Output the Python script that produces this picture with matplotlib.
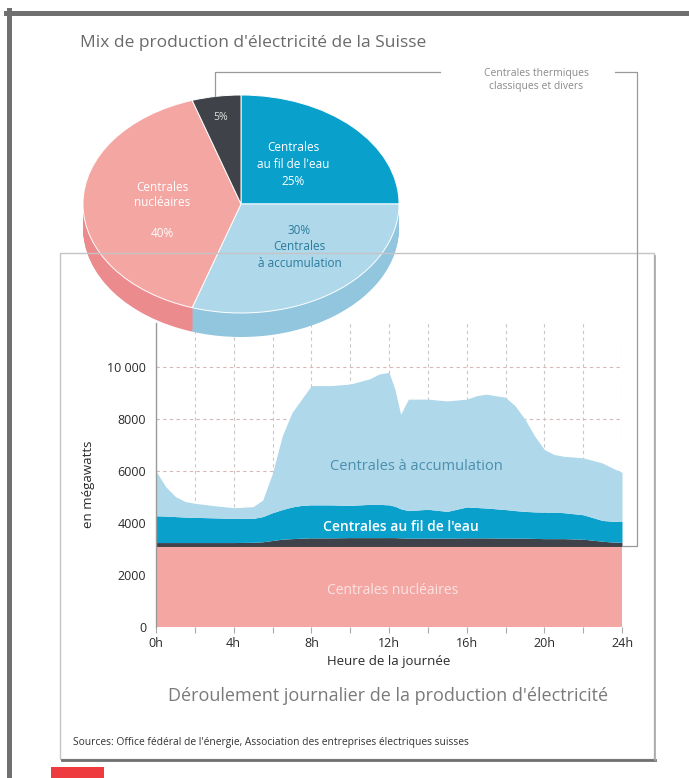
import matplotlib
matplotlib.use("Agg")
from matplotlib import pyplot as plt
from matplotlib.lines import Line2D
from matplotlib.patches import Rectangle

plt.rcParams['font.family'] = ['Open Sans', 'DejaVu Sans']

W, H = 689, 778

# pie: shares of the Swiss electricity mix (%)
pie_labels = ["Centrales au fil de l'eau", "Centrales à accumulation",
              "Centrales nucléaires", "Centrales thermiques classiques et divers"]
pie_shares = [25, 30, 40, 5]

# daily production, upper edge of each stacked layer (MW)
hours = [0, 0.5, 1, 1.5, 2, 3, 4, 5, 5.5, 6, 6.5, 7, 7.5, 8, 9, 10, 11, 11.5, 12,
         12.3, 12.6, 13, 14, 15, 16, 16.5, 17, 18, 18.5, 19, 19.5, 20, 20.5, 21,
         22, 23, 23.5, 24]
top_nuclear = [3100] * len(hours)
top_thermal = [3250, 3250, 3250, 3250, 3250, 3250, 3250, 3260, 3280, 3330, 3380,
               3400, 3420, 3430, 3430, 3440, 3440, 3440, 3440, 3440, 3430, 3420,
               3420, 3420, 3430, 3430, 3430, 3420, 3420, 3420, 3410, 3400, 3400,
               3400, 3380, 3300, 3270, 3260]
top_fil = [4280, 4270, 4250, 4230, 4220, 4200, 4180, 4180, 4250, 4400, 4520, 4620,
           4680, 4700, 4700, 4680, 4720, 4720, 4700, 4650, 4550, 4480, 4530, 4450,
           4620, 4600, 4580, 4520, 4480, 4450, 4430, 4420, 4420, 4400, 4320, 4100,
           4070, 4060]
top_accum = [6000, 5400, 5020, 4830, 4760, 4670, 4590, 4630, 4890, 5920, 7350,
             8250, 8770, 9290, 9290, 9350, 9550, 9740, 9800, 9160, 8190, 8770,
             8770, 8700, 8770, 8900, 8960, 8840, 8510, 8000, 7350, 6830, 6640,
             6570, 6510, 6310, 6120, 5950]

y_ticks = [0, 2000, 4000, 6000, 8000, 10000]
y_ticklabels = ["0", "2000", "4000", "6000", "8000", "10 000"]
x_ticks = list(range(0, 25, 2))
x_ticklabels = [f"{h}h" if h % 4 == 0 else "" for h in x_ticks]

c_nuc, c_nuc_side = "#f4a6a3", "#ec8b8e"
c_acc, c_acc_side = "#afd8ea", "#92c6df"
c_fil, c_fil_side = "#0aa0cc", "#0a88b0"
c_the, c_the_side = "#3f4248", "#2f3136"


def fx(x):
    return x / W


def fy(y):
    return 1 - y / H


fig = plt.figure(figsize=(W / 100, H / 100), dpi=100)

# outer frame (top and left only) and red mark
fig.add_artist(Line2D([fx(6), fx(689)], [fy(12.5), fy(12.5)], color="#707070", lw=3.6))
fig.add_artist(Line2D([fx(8.5), fx(8.5)], [fy(10), fy(778)], color="#707070", lw=3.6))
fig.add_artist(Rectangle((fx(51), fy(778)), fx(53), 11 / H, color="#ee3b40", lw=0))

# chart frame with shadow
fig.add_artist(Rectangle((fx(60), fy(759)), fx(594), 506 / H, fill=False,
                         edgecolor="#c4c4c4", lw=1))
fig.add_artist(Line2D([fx(62), fx(655)], [fy(760), fy(760)], color="#707070", lw=2))
fig.add_artist(Line2D([fx(655), fx(655)], [fy(256), fy(760)], color="#a8a8a8", lw=1.2))

# ---- area chart ----
ax = fig.add_axes([fx(156), fy(627), (622 - 156) / W, (627 - 323) / H])
ax.fill_between(hours, 0, top_nuclear, color=c_nuc, lw=0)
ax.fill_between(hours, top_nuclear, top_thermal, color=c_the, lw=0)
ax.fill_between(hours, top_thermal, top_fil, color=c_fil, lw=0)
ax.fill_between(hours, top_fil, top_accum, color=c_acc, lw=0)
ax.set_xlim(0, 24)
ax.set_ylim(0, 11700)
ax.set_axisbelow(True)
ax.set_xticks(x_ticks)
ax.set_xticklabels(x_ticklabels)
ax.set_yticks(y_ticks)
ax.set_yticklabels(y_ticklabels)
ax.tick_params(axis="x", length=4, color="#aaaaaa", labelsize=9,
               labelcolor="#2a2a2a", pad=3)
ax.tick_params(axis="y", length=0, labelsize=9, labelcolor="#2a2a2a", pad=7)
ax.xaxis.grid(True, color="#c8c8c8", lw=0.8, linestyle=(0, (3, 3)))
ax.yaxis.grid(True, color="#d9b7b7", lw=0.8, linestyle=(0, (3, 3)))
for s in ["top", "right", "bottom"]:
    ax.spines[s].set_visible(False)
ax.spines["left"].set_color("#9a9a9a")
ax.spines["left"].set_linewidth(1)
ax.set_xlabel("Heure de la journée", fontsize=9.5, color="#2a2a2a", labelpad=4)
ax.set_ylabel("en mégawatts", fontsize=9.5, color="#2a2a2a")
ax.yaxis.set_label_coords(-0.13, 0.47)
ax.text(13.4, 6180, "Centrales à accumulation", fontsize=10.5, color="#4a8fae",
        ha="center", va="center")
ax.text(12.6, 3850, "Centrales au fil de l'eau", fontsize=10, color="white",
        ha="center", va="center", fontweight="semibold")
ax.text(12.2, 1400, "Centrales nucléaires", fontsize=10, color="#fbe3e2",
        ha="center", va="center")

# ---- pie ----
cx, cy, rx, ry, depth = 241, 204, 158, 109, 24
l, r, t, b = cx - rx - 10, cx + rx + 10, cy - ry - 10, cy + ry + depth + 10
pax = fig.add_axes([fx(l), fy(b), (r - l) / W, (b - t) / H])
side_colors = [c_fil_side, c_acc_side, c_nuc_side, c_the_side]
top_colors = [c_fil, c_acc, c_nuc, c_the]
n_layers = 24
for k in range(n_layers):
    off = -depth / ry * (1 - k / n_layers)
    pax.pie(pie_shares, colors=side_colors, startangle=90, counterclock=False,
            radius=1, center=(0, off), wedgeprops=dict(lw=0))
pax.pie(pie_shares, colors=top_colors, startangle=90, counterclock=False,
        radius=1, center=(0, 0), wedgeprops=dict(edgecolor="white", lw=0.7))
pax.set_aspect("auto")
pax.set_xlim(-1 - 10 / rx, 1 + 10 / rx)
pax.set_ylim(-(ry + depth + 10) / ry, 1 + 10 / ry)
pax.axis("off")

pax.text(-0.5, -0.06, "Centrales\nnucléaires\n\n40%", color="white", fontsize=8.5,
         ha="center", va="center", linespacing=1.25)
pax.text(-0.13, 0.79, "5%", color="#e0e0e0", fontsize=7.5, ha="center", va="center")
pax.text(0.33, 0.36, "Centrales\nau fil de l'eau\n25%", color="white", fontsize=8.5,
         ha="center", va="center", linespacing=1.4)
pax.text(0.37, -0.39, "30%\nCentrales\nà accumulation", color="#2a7c9c", fontsize=8.5,
         ha="center", va="center", linespacing=1.35)

# connector to the thermal layer
conn_x = [fx(215), fx(215), fx(440)]
conn_y = [fy(96), fy(72), fy(72)]
fig.add_artist(Line2D(conn_x, conn_y, color="#9a9a9a", lw=0.9))
fig.add_artist(Line2D([fx(615), fx(637), fx(637), fx(622)],
                      [fy(72), fy(72), fy(546), fy(546)], color="#9a9a9a", lw=0.9))
fig.text(fx(536), fy(80), "Centrales thermiques\nclassiques et divers", fontsize=7.5,
         color="#8a8a8a", ha="center", va="center", linespacing=1.2)

# titles
fig.text(fx(80), fy(43), "Mix de production d'électricité de la Suisse", fontsize=12.5,
         color="#6a6a6a", ha="left", va="center")
fig.text(fx(388), fy(696), "Déroulement journalier de la production d'électricité",
         fontsize=13, color="#7a7a7a", ha="center", va="center")
fig.text(fx(73), fy(743),
         "Sources: Office fédéral de l'énergie, Association des entreprises électriques suisses",
         fontsize=7.4, color="#333333", ha="left", va="center")

fig.savefig("out.png", dpi=100)
